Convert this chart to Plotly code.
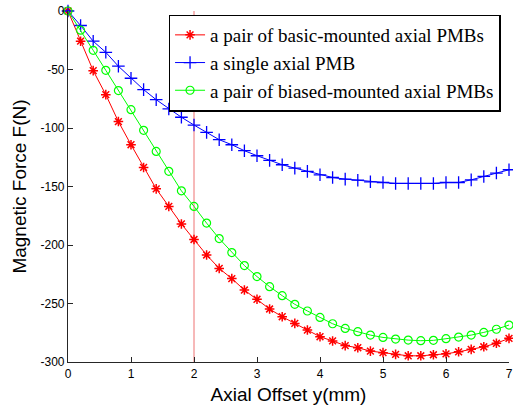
import plotly.graph_objects as go

# Axial offset (mm)
offset_mm = [round(0.2 * i, 1) for i in range(36)]

# Magnetic force (N)
force_basic_pair = [0, -25.8, -51.0, -71.5, -94.5, -114.3, -133.7, -152.0, -167.0, -182.0,
                    -195.3, -208.5, -220.0, -228.7, -238.5, -246.4, -254.7, -261.3, -267.0, -272.7,
                    -278.4, -282.0, -286.0, -287.8, -290.7, -292.0, -293.5, -294.7, -294.7, -293.8,
                    -293.0, -291.3, -289.2, -287.0, -284.0, -279.8]
force_single = [0, -12.4, -25.8, -35.3, -47.2, -57.5, -67.2, -75.8, -83.7, -90.8,
                -97.5, -103.7, -110.0, -114.3, -119.4, -123.7, -127.7, -131.4, -134.3, -137.1,
                -140.0, -142.3, -143.7, -144.6, -146.0, -146.6, -147.4, -147.4, -147.4, -147.4,
                -146.6, -146.6, -144.3, -141.4, -138.5, -135.7]
force_biased_pair = [0, -16.4, -33.6, -50.7, -68.0, -84.3, -102.0, -120.0, -137.0, -153.7,
                     -167.0, -181.3, -194.5, -206.5, -217.6, -227.0, -235.6, -243.3, -250.7, -256.4,
                     -261.9, -267.3, -271.3, -274.1, -277.0, -279.0, -280.4, -281.3, -281.8, -281.5,
                     -280.1, -278.7, -277.0, -274.7, -272.0, -268.4]

names = ["a pair of basic-mounted axial PMBs", "a single axial PMB",
         "a pair of biased-mounted axial PMBs"]

x_ticks = [0, 1, 2, 3, 4, 5, 6, 7]
x_ticktext = ["0", "1", "2", "3", "4", "5", "6", "7"]
y_ticks = [-300, -250, -200, -150, -100, -50, 0]
y_ticktext = ["-300", "-250", "-200", "-150", "-100", "-50", "0"]

marker_x = 2

fig = go.Figure()
fig.add_trace(go.Scatter(x=offset_mm, y=force_basic_pair, name=names[0], mode="lines+markers",
                         line=dict(color="#FF0000", width=1),
                         marker=dict(symbol="asterisk-open", size=8, color="#FF0000",
                                     line=dict(color="#FF0000", width=1.5)),
                         cliponaxis=False))
fig.add_trace(go.Scatter(x=offset_mm, y=force_single, name=names[1], mode="lines+markers",
                         line=dict(color="#0000FF", width=1),
                         marker=dict(symbol="cross-thin-open", size=9, color="#0000FF",
                                     line=dict(color="#0000FF", width=1.3)),
                         cliponaxis=False))
fig.add_trace(go.Scatter(x=offset_mm, y=force_biased_pair, name=names[2], mode="lines+markers",
                         line=dict(color="#00FF00", width=1),
                         marker=dict(symbol="circle-open", size=8, color="#00FF00",
                                     line=dict(color="#00FF00", width=1.2)),
                         cliponaxis=False))

fig.add_shape(type="line", x0=marker_x, x1=marker_x, y0=-300, y1=0, xref="x", yref="y",
              line=dict(color="rgba(235,90,90,0.85)", width=1), layer="below")

axis_font = dict(family="Liberation Sans, Arial", size=12, color="#000000")
fig.update_layout(
    width=513, height=408,
    margin=dict(l=68, r=0, t=11, b=46),
    paper_bgcolor="white", plot_bgcolor="white",
    showlegend=True,
    legend=dict(x=0.228, y=0.99, xanchor="left", yanchor="top",
                bgcolor="white", bordercolor="#000000", borderwidth=1.5,
                font=dict(family="Liberation Serif, Times New Roman", size=19, color="#000000"),
                tracegroupgap=0, itemwidth=30),
    xaxis=dict(range=[0, 7], tickvals=x_ticks, ticktext=x_ticktext,
               showgrid=False, zeroline=False, showline=True, linecolor="#262626", linewidth=1.2,
               ticks="inside", ticklen=5, tickcolor="#262626", tickfont=axis_font,
               ticklabeloverflow="allow",
               title=dict(text="Axial Offset y(mm)", standoff=8,
                          font=dict(family="Liberation Sans, Arial", size=19, color="#000000"))),
    yaxis=dict(range=[-300, 0], tickvals=y_ticks, ticktext=y_ticktext,
               showgrid=False, zeroline=False, showline=True, linecolor="#262626", linewidth=1.2,
               ticks="inside", ticklen=5, tickcolor="#262626", tickfont=axis_font,
               title=dict(text="Magnetic Force F(N)", standoff=8,
                          font=dict(family="Liberation Sans, Arial", size=19, color="#000000"))),
)

fig.write_html("out.html", config={"displayModeBar": False},
               post_script="document.body.style.margin='0';document.body.style.overflow='hidden';")
